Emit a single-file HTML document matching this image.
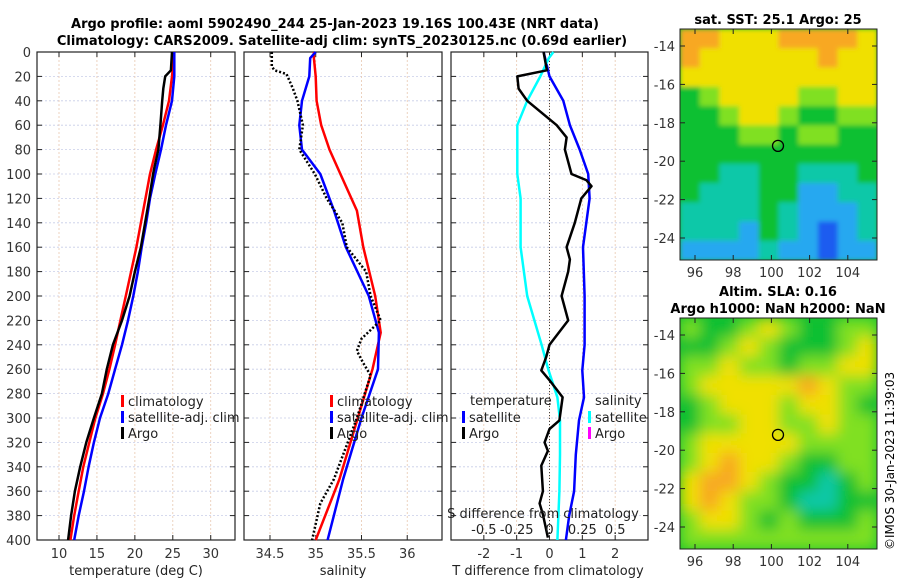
<!DOCTYPE html>
<html><head><meta charset="utf-8"><style>
body{margin:0;background:#fff;width:900px;height:580px;overflow:hidden}
svg{font-family:"DejaVu Sans","Liberation Sans",sans-serif}
</style></head><body>
<svg id="s" width="900" height="580" xmlns="http://www.w3.org/2000/svg">
<text x="335" y="28" font-size="13" font-weight="bold" text-anchor="middle">Argo profile: aoml 5902490_244 25-Jan-2023 19.16S 100.43E (NRT data)</text>
<text x="342" y="45" font-size="13" font-weight="bold" text-anchor="middle">Climatology: CARS2009. Satellite-adj clim: synTS_20230125.nc (0.69d earlier)</text>
<text x="778" y="24" font-size="13" font-weight="bold" text-anchor="middle">sat. SST: 25.1 Argo: 25</text>
<text x="778" y="296" font-size="13" font-weight="bold" text-anchor="middle">Altim. SLA: 0.16</text>
<text x="778" y="313" font-size="13" font-weight="bold" text-anchor="middle">Argo h1000: NaN h2000: NaN</text>
<text transform="translate(894,550) rotate(-90)" font-size="12">©IMOS 30-Jan-2023 11:39:03</text>
<defs><filter id="bl" x="0" y="0" width="1" height="1"><feGaussianBlur stdDeviation="7"/></filter>
<filter id="bl1" x="0" y="0" width="1" height="1"><feGaussianBlur stdDeviation="2.5"/></filter>
<clipPath id="c1"><rect x="680" y="29" width="197" height="231"/></clipPath>
<clipPath id="c2"><rect x="680" y="318" width="197" height="231"/></clipPath></defs>
</svg>
<script>
const depthTicks=[0,20,40,60,80,100,120,140,160,180,200,220,240,260,280,300,320,340,360,380,400];
// temperature panel
const tDepth=[0,15,20,30,40,60,80,95,100,120,140,160,180,200,220,240,260,280,300,320,340,360,380,400];
const tArgo=[24.9,24.75,24.0,23.75,23.6,23.36,23.1,22.56,22.4,21.9,21.35,20.8,20.0,19.3,18.3,17.1,16.3,15.65,14.6,13.6,12.8,12.1,11.6,11.2];
const tDepthC=[0,20,40,60,80,100,120,140,160,180,200,220,240,260,280,300,320,340,360,380,400];
const tClim=[25.2,24.9,24.5,23.7,22.8,22.0,21.4,20.8,20.2,19.5,18.8,18.1,17.4,16.65,15.8,14.8,14.0,13.2,12.6,12.0,11.5];
const tSat=[25.2,25.2,24.9,24.1,23.45,22.7,22.0,21.5,20.9,20.4,19.8,19.1,18.3,17.4,16.5,15.4,14.6,13.9,13.3,12.6,12.0];
// salinity panel
const sDepth=[0,5,20,40,60,80,100,130,160,200,230,260,300,350,400];
const sClim=[34.98,34.98,35.0,35.01,35.06,35.15,35.27,35.45,35.52,35.65,35.71,35.62,35.46,35.26,35.0];
const sSat=[35.0,34.94,34.93,34.85,34.82,34.85,35.05,35.2,35.33,35.58,35.69,35.68,35.5,35.3,35.13];
const aDepth=[0,12,15,18,30,40,60,80,100,120,140,160,180,200,220,235,245,255,265,300,350,370,400];
const sArgo=[34.52,34.52,34.55,34.68,34.75,34.8,34.86,34.82,34.99,35.12,35.29,35.34,35.55,35.6,35.71,35.5,35.45,35.52,35.6,35.45,35.2,35.05,34.96];
// difference panel
const dDepth=[0,15,20,30,40,60,70,80,90,100,105,110,120,140,160,170,180,200,220,240,250,261,269,283,302,309,320,327,339,360,370,379,398];
const dTArgo=[-0.18,-0.08,-0.98,-0.94,-0.68,0.22,0.52,0.47,0.57,0.67,1.12,1.28,0.97,0.77,0.52,0.62,0.57,0.37,0.57,0.0,-0.1,-0.25,0,0.4,0.3,0,-0.15,-0.05,-0.25,-0.2,-0.3,-0.2,-0.05];
const dDepthT=[0,20,40,60,80,100,120,140,160,200,240,261,283,302,330,360,380,400];
const dTSat=[-0.18,0,0.42,0.62,0.92,1.18,1.22,1.12,1.02,1.07,1.07,1.0,1.05,0.9,0.8,0.75,0.6,0.5];
const dDepthS=[0,5,20,40,60,100,120,160,200,240,260,283,302,330,360,400];
const dSSat=[0.03,-0.005,-0.07,-0.17,-0.245,-0.245,-0.22,-0.22,-0.17,-0.06,-0.01,0.06,0.08,0.08,0.075,0.06];

const S=document.getElementById('s');const NS='http://www.w3.org/2000/svg';
function mk(t,a,p){const e=document.createElementNS(NS,t);for(const k in a)e.setAttribute(k,a[k]);(p||S).appendChild(e);return e;}
const Y0=52,Y1=540;const yD=d=>Y0+(d/400)*(Y1-Y0);
function panel(x0,x1,lo,hi,ticks,labels,name,showY){
  const xf=v=>x0+(v-lo)/(hi-lo)*(x1-x0);
  const g=mk('g',{});
  depthTicks.forEach(d=>{mk('line',{x1:x0,x2:x1,y1:yD(d),y2:yD(d),stroke:'#c8cde8','stroke-width':0.8,'stroke-dasharray':'2,2'},g);
    mk('line',{x1:x0,x2:x0+5,y1:yD(d),y2:yD(d),stroke:'#222'},g);mk('line',{x1:x1-5,x2:x1,y1:yD(d),y2:yD(d),stroke:'#222'},g);
    if(showY){const t=mk('text',{x:x0-6,y:yD(d)+5,'font-size':13,'text-anchor':'end',fill:'#333'},g);t.textContent=d;}});
  ticks.forEach((v,i)=>{const x=xf(v);mk('line',{x1:x,x2:x,y1:Y0,y2:Y1,stroke:'#e8c8b0','stroke-width':0.8,'stroke-dasharray':'2,2'},g);
    mk('line',{x1:x,x2:x,y1:Y1-5,y2:Y1,stroke:'#222'},g);mk('line',{x1:x,x2:x,y1:Y0,y2:Y0+5,stroke:'#222'},g);
    if(labels){const t=mk('text',{x:x,y:558,'font-size':13,'text-anchor':'middle',fill:'#333'},g);t.textContent=labels[i];}});
  mk('rect',{x:x0,y:Y0,width:x1-x0,height:Y1-Y0,fill:'none',stroke:'#222','stroke-width':1.2},g);
  return {xf,g};
}
function line(p,xs,ds,col,w,dash,name){const pts=xs.map((v,i)=>p.xf(v).toFixed(1)+','+yD(ds[i]).toFixed(1)).join(' ');
  const e=mk('polyline',{points:pts,fill:'none',stroke:col,'stroke-width':w,'stroke-linejoin':'round'},p.g);if(dash)e.setAttribute('stroke-dasharray',dash);
  }
function txt(x,y,s,size,anchor,name){const t=mk('text',{x,y,'font-size':size||13,'text-anchor':anchor||'start',fill:'#222'});t.textContent=s;
  return t;}
function leg(x,y,col,s,name){mk('rect',{x:x,y:y-11,width:3,height:12,fill:col});txt(x+7,y,s,13,'start',name);}

const p1=panel(37,235,7.1,33.2,[10,15,20,25,30],['10','15','20','25','30'],'temperature-panel',true);
line(p1,tClim,tDepthC,'#ff0000',2.5,null,'temp-climatology-line');
line(p1,tSat,tDepthC,'#0000ff',2.5,null,'temp-satellite-line');
line(p1,tArgo,tDepth,'#000',2.5,null,'temp-argo-line');
txt(136,575,'temperature (deg C)',13,'middle','temp-x-axis-title');
leg(121,406,'#f00','climatology','legend-climatology');leg(121,422,'#00f','satellite-adj. clim','legend-satellite');leg(121,438,'#000','Argo','legend-argo');

const p2=panel(244,442,34.216,36.38,[34.5,35,35.5,36],['34.5','35','35.5','36'],'salinity-panel',false);
line(p2,sClim,sDepth,'#ff0000',2.5,null,'sal-climatology-line');
line(p2,sSat,sDepth,'#0000ff',2.5,null,'sal-satellite-line');
line(p2,sArgo,aDepth,'#000',2.5,'2,2','sal-argo-line');
txt(343,575,'salinity',13,'middle','sal-x-axis-title');
leg(330,406,'#f00','climatology','legend-sal-climatology');leg(330,422,'#00f','satellite-adj. clim','legend-sal-satellite');leg(330,438,'#000','Argo','legend-sal-argo');

const p3=panel(451,648,-3,3,[-2,-1,0,1,2],['-2','-1','0','1','2'],'difference-panel',false);
mk('line',{x1:p3.xf(0),x2:p3.xf(0),y1:Y0,y2:Y1,stroke:'#444','stroke-dasharray':'1,2'},p3.g);
line(p3,dTSat,dDepthT,'#0000ff',2.5,null,'tdiff-satellite-line');
line(p3,dSSat.map(v=>v*4),dDepthS,'#00ffff',2.5,null,'sdiff-satellite-line');
line(p3,dTArgo,dDepth,'#000',2.5,null,'tdiff-argo-line');
txt(548,575,'T difference from climatology',13,'middle','tdiff-x-axis-title');
txt(543,518,'S difference from climatology',13,'middle','sdiff-axis-title');
[-0.5,-0.25,0,0.25,0.5].forEach(v=>txt(p3.xf(v*4),534,String(v),13,'middle','sdiff-tick'));
txt(470,405,'temperature',13,'start','legend-temperature-header');txt(595,405,'salinity',13,'start','legend-salinity-header');
leg(462,422,'#00f','satellite','legend-tdiff-satellite');leg(462,438,'#000','Argo','legend-tdiff-argo');
leg(588,422,'#0ff','satellite','legend-sdiff-satellite');leg(588,438,'#f0f','Argo','legend-sdiff-argo');

// maps
const pal=['#1a5cf0','#28a8f0','#10c8a8','#10c030','#80e020','#f0e000','#f8a820'];
const map1=["6655566665","6555555655","5555555555","3455554455","3345543344","3334434433","3333333333","3322332223","3222331122","2222321112","2221321012","1111211011"];
const map2=["4334543344","3345433345","4454434455","4555556544","3455545543","3445544544","4555554444","4565543344","5665433234","5654432233","4554343334","4444444444"];
function map(y0,grid,name,blur,clip){
  const g=mk('g',{});
  const cg=mk('g',{'clip-path':'url(#'+clip+')'},g);
  mk('rect',{x:680,y:y0,width:197,height:231,fill:pal[3]},cg);
  const inner=mk('g',{filter:'url(#'+blur+')'},cg);
  const cw=197/10,ch=231/12;
  grid.forEach((r,i)=>[...r].forEach((c,j)=>mk('rect',{x:680+j*cw,y:y0+i*ch,width:cw+0.6,height:ch+0.6,fill:pal[+c]},inner)));
  mk('rect',{x:680,y:y0,width:197,height:231,fill:'none',stroke:'#222'},g);
  const lat=[-14,-16,-18,-20,-22,-24];lat.forEach(v=>{const y=y0+17+(-14-v)*19.2;mk('line',{x1:877,x2:872,y1:y,y2:y,stroke:'#222'},g);mk('line',{x1:680,x2:685,y1:y,y2:y,stroke:'#222'},g);
    const t=mk('text',{x:675,y:y+5,'font-size':13,'text-anchor':'end',fill:'#333'},g);t.textContent=v;});
  [96,98,100,102,104].forEach(v=>{const x=695+(v-96)*19.1;mk('line',{x1:x,x2:x,y1:y0+231,y2:y0+226,stroke:'#222'},g);mk('line',{x1:x,x2:x,y1:y0,y2:y0+5,stroke:'#222'},g);
    const t=mk('text',{x:x,y:y0+248,'font-size':13,'text-anchor':'middle',fill:'#333'},g);t.textContent=v;});
  const c=mk('circle',{cx:778,cy:y0+17+5.2*19.2,r:5.5,fill:'none',stroke:'#000','stroke-width':1.3},g);
  
}
map(29,map1,'sst-map','bl1','c1');map(318,map2,'sla-map','bl','c2');
</script>
</body></html>
